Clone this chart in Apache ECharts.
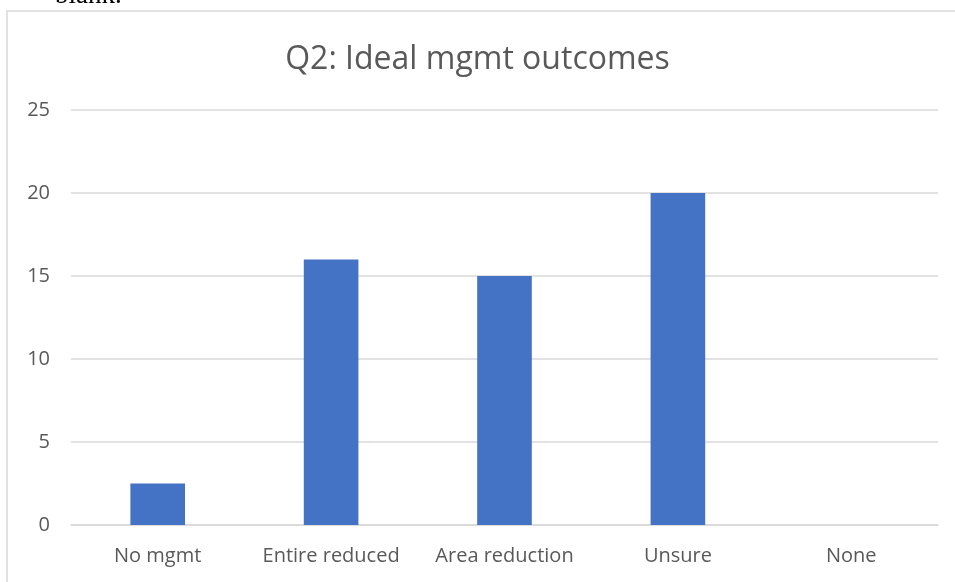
<!DOCTYPE html>
<html>
<head>
    <meta charset="utf-8">
    <title>Q2: Ideal mgmt outcomes</title>
    <style>
        html, body { margin: 0; padding: 0; background: #fff; }
    </style>
</head>
<body>
    <div id="main" style="width: 955px; height: 582px;"></div>
    <script src="https://cdn.jsdelivr.net/npm/echarts@6/dist/echarts.min.js"></script>
    <script type="text/javascript">
        // data
        var categories = ['No mgmt', 'Entire reduced', 'Area reduction', 'Unsure', 'None'];
        var counts = [2.5, 16, 15, 20, 0];

        var chartDom = document.getElementById('main');
        var myChart = echarts.init(chartDom);
        var textGrey = '#595959';
        var lineGrey = '#d9d9d9';

        var option = {
            backgroundColor: '#fff',
            animation: false,
            title: {
                text: 'Q2: Ideal mgmt outcomes',
                left: 'center',
                top: 39,
                textStyle: {
                    color: textGrey,
                    fontFamily: 'Open Sans',
                    fontSize: 32,
                    fontWeight: 'normal'
                }
            },
            graphic: [
                {
                    // chart frame
                    type: 'rect',
                    shape: { x: 7, y: 11, width: 1000, height: 700 },
                    style: { fill: 'none', stroke: lineGrey, lineWidth: 1.5 },
                    silent: true,
                    z: -1
                },
                {
                    // cut-off text from the surrounding document
                    type: 'text',
                    left: 55,
                    top: -18,
                    style: {
                        text: 'blank.',
                        fill: '#000',
                        font: '27px "Liberation Serif"'
                    }
                }
            ],
            grid: {
                left: 71,
                right: 17,
                top: 110,
                bottom: 57
            },
            xAxis: {
                type: 'category',
                data: categories,
                axisLine: { lineStyle: { color: lineGrey, width: 1.5 } },
                axisTick: { show: false },
                axisLabel: {
                    interval: 0,
                    color: textGrey,
                    fontFamily: 'Open Sans',
                    fontSize: 20,
                    margin: 21
                }
            },
            yAxis: {
                type: 'value',
                min: 0,
                max: 25,
                interval: 5,
                axisLine: { show: false },
                axisTick: { show: false },
                splitLine: { lineStyle: { color: lineGrey, width: 1.5 } },
                axisLabel: {
                    color: textGrey,
                    fontFamily: 'Open Sans',
                    fontSize: 20,
                    margin: 21
                }
            },
            series: [
                {
                    type: 'bar',
                    data: counts,
                    barWidth: '31.5%',
                    itemStyle: { color: '#4472c4' }
                }
            ]
        };

        option && myChart.setOption(option);
    </script>
</body>
</html>
